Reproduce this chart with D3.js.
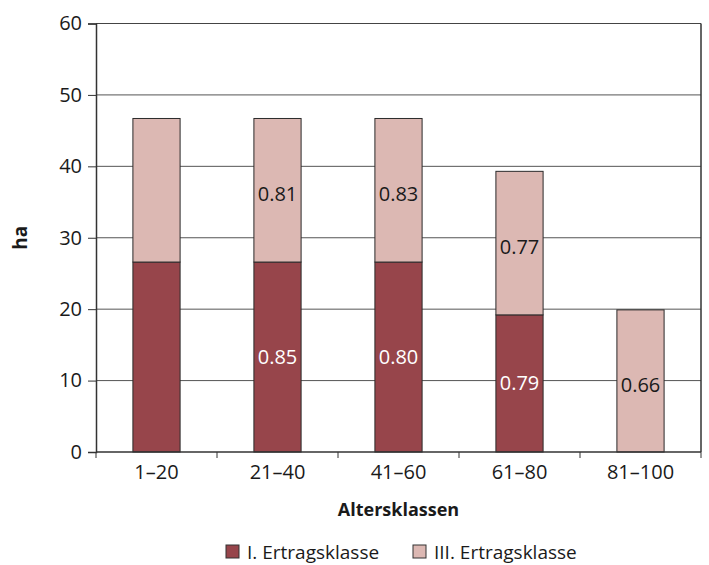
<!DOCTYPE html>
<html lang="de">
<head>
<meta charset="UTF-8">
<title>Altersklassen</title>
<script src="https://d3js.org/d3.v7.min.js"></script>
<style>
  body { margin: 0; background: #fff; }
  svg { font-family: "Open Sans", "Noto Sans", sans-serif; }
</style>
</head>
<body>
<script>
// Daten
var classes = ['1–20', '21–40', '41–60', '61–80', '81–100'];
var klasseI = [26.6, 26.6, 26.6, 19.2, 0];
var klasseIII = [20.1, 20.1, 20.1, 20.1, 19.9];
var labelsI = ['', '0.85', '0.80', '0.79', ''];
var labelsIII = ['', '0.81', '0.83', '0.77', '0.66'];
var seriesNames = ['I. Ertragsklasse', 'III. Ertragsklasse'];
var colors = ['#97454b', '#dcb8b3'];
var yTicks = [0, 10, 20, 30, 40, 50, 60];

var width = 709, height = 565;
var margin = {left: 96, right: 8, top: 23.5, bottom: 113};

var svg = d3.select('body').append('svg')
    .attr('width', width)
    .attr('height', height);

var x = d3.scaleBand()
    .domain(classes)
    .range([margin.left, width - margin.right]);

var y = d3.scaleLinear()
    .domain([0, 60])
    .range([height - margin.bottom, margin.top]);

// Gitterlinien
svg.append('g').selectAll('line')
    .data(yTicks.slice(1))
    .enter().append('line')
    .attr('x1', margin.left)
    .attr('x2', width - margin.right)
    .attr('y1', function(d) { return y(d); })
    .attr('y2', function(d) { return y(d); })
    .attr('stroke', function(d) { return d === 60 ? '#444' : '#555'; })
    .attr('stroke-width', 1);

// rechter Rand
svg.append('line')
    .attr('x1', width - margin.right).attr('x2', width - margin.right)
    .attr('y1', y(60)).attr('y2', y(0))
    .attr('stroke', '#333').attr('stroke-width', 1.5);

// Balken
var barW = x.bandwidth() * 0.39;
var rows = classes.map(function(c, i) {
    return {cls: c, a: klasseI[i], b: klasseIII[i], la: labelsI[i], lb: labelsIII[i]};
});

var g = svg.append('g');
rows.forEach(function(d) {
    var x0 = x(d.cls) + (x.bandwidth() - barW) / 2;
    if (d.a > 0) {
        g.append('rect')
            .attr('x', x0).attr('width', barW)
            .attr('y', y(d.a)).attr('height', y(0) - y(d.a))
            .attr('fill', colors[0]).attr('stroke', '#2b2b2b').attr('stroke-width', 1);
    }
    g.append('rect')
        .attr('x', x0).attr('width', barW)
        .attr('y', y(d.a + d.b)).attr('height', y(d.a) - y(d.a + d.b))
        .attr('fill', colors[1]).attr('stroke', '#2b2b2b').attr('stroke-width', 1);
    if (d.la) {
        g.append('text')
            .attr('x', x(d.cls) + x.bandwidth() / 2)
            .attr('y', (y(0) + y(d.a)) / 2)
            .attr('dy', '0.35em')
            .attr('text-anchor', 'middle')
            .attr('font-size', 20)
            .attr('fill', '#fff')
            .text(d.la);
    }
    if (d.lb) {
        g.append('text')
            .attr('x', x(d.cls) + x.bandwidth() / 2)
            .attr('y', (y(d.a) + y(d.a + d.b)) / 2 + 4)
            .attr('dy', '0.35em')
            .attr('text-anchor', 'middle')
            .attr('font-size', 20)
            .attr('fill', '#1a1a1a')
            .text(d.lb);
    }
});

// Achsen
var yAxis = svg.append('g')
    .attr('transform', 'translate(' + margin.left + ',0)')
    .call(d3.axisLeft(y).tickValues(yTicks).tickSize(8).tickPadding(6));
var xAxis = svg.append('g')
    .attr('transform', 'translate(0,' + y(0) + ')')
    .call(d3.axisBottom(x).tickSize(6).tickPadding(7).tickSizeOuter(6));

// Trennstriche an den Bandgrenzen statt in der Mitte
xAxis.selectAll('.tick line').remove();
var edges = classes.map(function(c) { return x(c); }).concat([x.range()[1]]);
xAxis.selectAll('.edge').data(edges).enter().append('line')
    .attr('x1', function(d) { return d; }).attr('x2', function(d) { return d; })
    .attr('y1', 0).attr('y2', 6)
    .attr('stroke', '#333');

[yAxis, xAxis].forEach(function(a) {
    a.select('.domain').attr('stroke', '#333').attr('stroke-width', 1.5);
    a.selectAll('.tick line').attr('stroke', '#333');
    a.selectAll('text').attr('font-size', 20).attr('fill', '#1a1a1a')
        .attr('font-family', '"Open Sans", "Noto Sans", sans-serif');
});
xAxis.select('.domain').attr('d', 'M' + margin.left + ',0H' + (width - margin.right));

// Achsentitel
svg.append('text')
    .attr('transform', 'translate(27,' + ((y(0) + y(60)) / 2) + ') rotate(-90)')
    .attr('text-anchor', 'middle')
    .attr('font-size', 19).attr('font-weight', 'bold').attr('fill', '#1a1a1a')
    .text('ha');

svg.append('text')
    .attr('x', (margin.left + width - margin.right) / 2)
    .attr('y', 516)
    .attr('text-anchor', 'middle')
    .attr('font-size', 18).attr('font-weight', 'bold').attr('fill', '#1a1a1a')
    .text('Altersklassen');

// Legende
var legendX = [226, 413];
var leg = svg.append('g').selectAll('g')
    .data(seriesNames)
    .enter().append('g')
    .attr('transform', function(d, i) { return 'translate(' + legendX[i] + ',545)'; });
leg.append('rect')
    .attr('width', 13).attr('height', 13)
    .attr('fill', function(d, i) { return colors[i]; })
    .attr('stroke', '#333').attr('stroke-width', 1);
leg.append('text')
    .attr('x', 21).attr('y', 7).attr('dy', '0.35em')
    .attr('font-size', 19).attr('fill', '#1a1a1a')
    .text(function(d) { return d; });
</script>
</body>
</html>
